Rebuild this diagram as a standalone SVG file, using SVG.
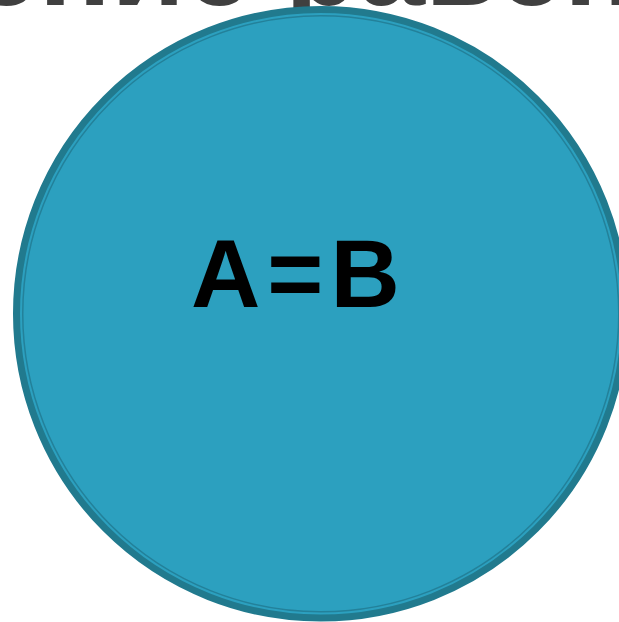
<svg xmlns="http://www.w3.org/2000/svg" width="619" height="622" viewBox="0 0 619 622">
<style>
.title{font-family:"Liberation Sans",Arial,sans-serif;font-weight:bold;font-size:120px;fill:#404040}
.label{font-family:"Liberation Sans",Arial,sans-serif;font-weight:bold;font-size:96px;fill:#000000;letter-spacing:7px}
</style>
<rect width="619" height="622" fill="#ffffff"/>
<text class="title" x="-28" y="5">ение равен</text>
<g id="node-circle">
<circle cx="320.75" cy="313.75" r="304.25" fill="#2ca0bf" stroke="#217a8e" stroke-width="7"/>
<circle cx="320.75" cy="313.75" r="298" fill="none" stroke="#23819a" stroke-width="1.5"/>
<text class="label" x="191" y="307">A=B</text>
</g>
<g id="connectors"/>
</svg>
